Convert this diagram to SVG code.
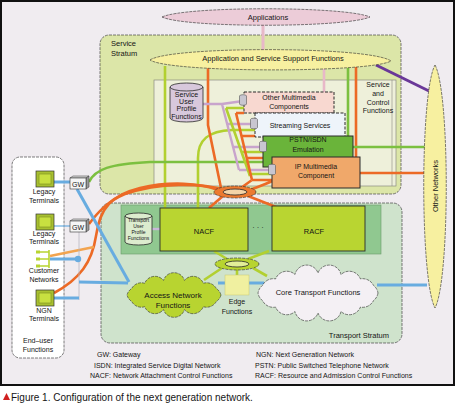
<svg xmlns="http://www.w3.org/2000/svg" width="456" height="405" viewBox="0 0 456 405">
<defs>
<style>
text{font-family:"Liberation Sans",Arial,sans-serif;fill:#151515}
.t7{font-size:7px}
.t75{font-size:7.5px}
.t8{font-size:8px}
.t5{font-size:5px}
.c{text-anchor:middle}
.dash{stroke:#2a2a2a;stroke-width:0.6;stroke-dasharray:3 1}
.sol{stroke:#2a2a2a;stroke-width:0.8}
.ln{fill:none;stroke-linecap:butt}
.blue{stroke:#68ace0;stroke-width:3}
.orange{stroke:#ec6a26;stroke-width:2.6}
.lime{stroke:#b2d030;stroke-width:2.6}
.green{stroke:#7cc040;stroke-width:2.6}
.lav{stroke:#c8a4cc;stroke-width:2.4}
.cyl{fill:#c8c6d0;stroke:#555;stroke-width:0.6}
.term{fill:#a8c030;stroke:#333;stroke-width:0.7}
.termin{fill:#c8e040;stroke:#7a8a20;stroke-width:0.6}
</style>
</defs>
<rect x="0" y="0" width="456" height="405" fill="#ffffff"/>
<rect x="1" y="1" width="453" height="384" fill="#f0ecf0" stroke="#111" stroke-width="2"/>

<g id="service-stratum">
<rect x="100" y="35" width="301" height="159" rx="9" fill="#dce6a8" class="dash"/>
<text class="t75" x="111" y="46">Service</text>
<text class="t75" x="111" y="56">Stratum</text>
<rect x="154" y="80" width="242" height="106" fill="#eef0da" stroke="#8a8a80" stroke-width="0.7"/>
<line x1="392" y1="80" x2="392" y2="186" stroke="#8a8a80" stroke-width="0.6"/>
</g>
<g id="service-control">
<text class="t7 c" x="378" y="87">Service</text>
<text class="t7 c" x="378" y="96">and</text>
<text class="t7 c" x="378" y="104.5">Control</text>
<text class="t7 c" x="378" y="112.5">Functions</text>
</g>

<g id="transport-stratum">
<rect x="101" y="203" width="301" height="140" rx="9" fill="#cfe3cc" class="dash"/>
<rect x="121" y="205" width="260" height="49" fill="#90c890" stroke="#6a9a6a" stroke-width="0.6"/>
<text class="t75" x="389" y="338" text-anchor="end">Transport Stratum</text>
</g>

<g id="end-user-functions">
<rect x="12" y="157" width="52" height="201" rx="8" fill="#ffffff" class="dash"/>
<text class="t7 c" x="38" y="343">End–user</text>
<text class="t7 c" x="38" y="352">Functions</text>
</g>

<g id="connectors">
<line class="ln" x1="263" y1="25" x2="263" y2="51" stroke="#e8b8c8" stroke-width="3"/>
<line class="ln lime" x1="165" y1="66" x2="165" y2="208"/>
<path class="ln lime" d="M198 208 V158 C198 140 208 131 232 130 H256"/>
<path class="ln orange" d="M208 66 V125 L221 188"/>
<line class="ln" x1="324" y1="66" x2="324" y2="92" stroke="#e8b8c8" stroke-width="2.6"/>
<line class="ln green" x1="348" y1="66" x2="348" y2="136"/>
<line class="ln orange" x1="356" y1="66" x2="356" y2="157"/>
<line class="ln green" x1="353" y1="147" x2="426" y2="147"/>
<line class="ln orange" x1="360" y1="173" x2="426" y2="173"/>
<line class="ln" x1="376" y1="65" x2="429" y2="91" stroke="#6a3898" stroke-width="3"/>
<path class="ln green" d="M89 182 C95 169 110 164 150 162 L263 162"/>
<path class="ln lav" d="M203 104 H222 L243 101 M222 104 L239 170 M227 124 H252 M233 147 H262 M239 170 H271"/>
<path class="ln lime" d="M226 108 H244 M226 108 L250 176 M241 152 H263 M248 174 H272"/>
<path class="ln orange" d="M236 113 H244 M236 113 L252 180 M241 136 H255 M247 158 H263 M252 180 H272 M252 180 L238 190"/>
<path class="ln orange" d="M89 224 C98 212 108 201 125 194 C160 182 200 183 226 190"/>
<path class="ln orange" d="M54 293 C80 279 92 262 96 236 C100 207 112 195 140 188 C170 181 200 183 218 190"/>
<path class="ln orange" d="M250 190 C260 186 266 184 272 181"/>
<line class="ln orange" x1="223" y1="196" x2="209" y2="208"/>
<line class="ln orange" x1="248" y1="196" x2="276" y2="207"/>
<path class="ln" d="M50 256 C65 253 80 250 94 247" stroke="#f2a450" stroke-width="2.4"/>
<line class="ln" x1="79" y1="232" x2="79" y2="300" stroke="#b8b8c0" stroke-width="0.8"/>
<line class="ln blue" x1="54" y1="182" x2="70" y2="182"/>
<line class="ln" x1="54" y1="226" x2="70" y2="226" stroke="#68ace0" stroke-width="1.2"/>
<line class="ln blue" x1="77" y1="189" x2="129" y2="282"/>
<line class="ln blue" x1="50" y1="259" x2="78" y2="259"/>
<circle cx="78" cy="259" r="3.2" fill="#68ace0"/>
<line class="ln blue" x1="79" y1="282" x2="128" y2="283"/>
<line class="ln blue" x1="54" y1="298" x2="79" y2="298"/>
<line class="ln" x1="152" y1="229" x2="160" y2="229" stroke="#c8b8d8" stroke-width="2.4"/>
<line class="ln lime" x1="227" y1="259" x2="214" y2="251"/>
<line class="ln lime" x1="248" y1="259" x2="269" y2="251"/>
<line class="ln lime" x1="222" y1="268" x2="204" y2="280"/>
<line class="ln lime" x1="253" y1="268" x2="267" y2="276"/>
<line class="ln lime" x1="237" y1="270" x2="237" y2="275"/>
<line class="ln blue" x1="218" y1="283" x2="225" y2="283"/>
<line class="ln blue" x1="249" y1="283" x2="264" y2="283"/>
<line class="ln blue" x1="377" y1="285" x2="427" y2="285"/>
</g>

<g id="applications">
<path d="M162 17 C185 6 345 6 370 17 C345 28 185 28 162 17 Z" fill="#ecccd8" class="dash"/>
<text class="t75 c" x="268" y="19.5">Applications</text>
</g>

<g id="assf">
<path d="M150 60 C170 46 370 46 391 61 C370 73 170 73 150 60 Z" fill="#f7f0a0" class="dash"/>
<text class="t75 c" x="273" y="61">Application and Service Support Functions</text>
</g>

<g id="other-networks">
<path d="M435 65 C450 92 450 280 435 308 C420 280 420 92 435 65 Z" fill="#f7f0a0" class="dash"/>
<text class="t75 c" x="438" y="186" transform="rotate(-90 438 186)">Other Networks</text>
</g>

<g id="supf">
<path d="M170 87 A16.5 4 0 0 1 203 87 V118 A16.5 4 0 0 1 170 118 Z" fill="#d8c8dc" class="sol"/>
<path d="M170 87 A16.5 4 0 0 0 203 87" fill="none" class="sol"/>
<text class="t7 c" x="186.5" y="97">Service</text>
<text class="t7 c" x="186.5" y="104">User</text>
<text class="t7 c" x="186.5" y="111">Profile</text>
<text class="t7 c" x="186.5" y="118.5">Functions</text>
</g>

<g id="other-multimedia">
<rect x="244" y="92" width="90" height="21" fill="#f8d8d0" stroke="#2a2a2a" stroke-width="1" stroke-dasharray="3 1.5"/>
<text class="t7 c" x="289" y="100">Other Multimedia</text>
<text class="t7 c" x="289" y="109">Components</text>
<path class="cyl" d="M239.5 96 A3.5 1.3 0 0 1 246.5 96 V104 A3.5 1.3 0 0 1 239.5 104 Z"/>
</g>

<g id="streaming">
<rect x="255" y="113" width="90" height="24" fill="#eef4fa" stroke="#2a2a2a" stroke-width="1" stroke-dasharray="3 1.5"/>
<text class="t7 c" x="300" y="128">Streaming Services</text>
<path class="cyl" d="M250.5 119.5 A3.5 1.3 0 0 1 257.5 119.5 V127.5 A3.5 1.3 0 0 1 250.5 127.5 Z"/>
</g>

<g id="pstn">
<rect x="263" y="136" width="90" height="31" fill="#6ab43a" stroke="#2a2a2a" stroke-width="1"/>
<text class="t7 c" x="308" y="142">PSTN/ISDN</text>
<text class="t7 c" x="308" y="152">Emulation</text>
<path class="cyl" d="M259.5 142.5 A3.5 1.3 0 0 1 266.5 142.5 V150.5 A3.5 1.3 0 0 1 259.5 150.5 Z"/>
</g>

<g id="ipmm">
<rect x="272" y="157" width="88" height="31" fill="#f0a86a" stroke="#2a2a2a" stroke-width="1"/>
<text class="t7 c" x="316" y="169">IP Multimedia</text>
<text class="t7 c" x="316" y="178">Component</text>
<path class="cyl" d="M268.5 165.5 A3.5 1.3 0 0 1 275.5 165.5 V173.5 A3.5 1.3 0 0 1 268.5 173.5 Z"/>
</g>

<g id="orange-ring">
<ellipse cx="235" cy="192" rx="21" ry="6" fill="#ec7a30" class="dash"/>
<ellipse cx="235" cy="192" rx="12" ry="3" fill="#f4d4a8" class="sol"/>
</g>

<g id="tupf">
<path d="M125 216 A13.5 3 0 0 1 152 216 V242 A13.5 3 0 0 1 125 242 Z" fill="#dcecce" class="sol"/>
<path d="M125 216 A13.5 3 0 0 0 152 216" fill="none" class="sol"/>
<text class="t5 c" x="138.5" y="222">Transport</text>
<text class="t5 c" x="138.5" y="228">User</text>
<text class="t5 c" x="138.5" y="234">Profile</text>
<text class="t5 c" x="138.5" y="240">Functions</text>
</g>

<g id="nacf">
<rect x="160" y="208" width="88" height="43" fill="#b9d531" stroke="#2a2a2a" stroke-width="0.9"/>
<text class="t75 c" x="204" y="234">NACF</text>
</g>

<g id="ellipsis">
<text class="t75 c" x="258" y="230">· · ·</text>
</g>

<g id="racf">
<rect x="272" y="206" width="93" height="45" fill="#b9d531" stroke="#2a2a2a" stroke-width="0.9"/>
<text class="t75 c" x="314" y="234">RACF</text>
</g>

<g id="lime-ring">
<ellipse cx="237" cy="264" rx="22" ry="6" fill="#b8d430" class="dash"/>
<ellipse cx="237" cy="264" rx="12" ry="3" fill="#e2ee98" class="sol"/>
</g>

<g id="access-network">
<path d="M221 295 A11 11 0 0 1 216.3 301.5 A11 11 0 0 1 203.3 306.7 A11 11 0 0 1 184.5 309.6 A11 11 0 0 1 163.5 309.6 A11 11 0 0 1 144.7 306.7 A11 11 0 0 1 131.7 301.5 A11 11 0 0 1 127 295 A11 11 0 0 1 131.7 288.5 A11 11 0 0 1 144.7 283.3 A11 11 0 0 1 163.5 280.4 A11 11 0 0 1 184.5 280.4 A11 11 0 0 1 203.3 283.3 A11 11 0 0 1 216.3 288.5 A11 11 0 0 1 221 295 Z" fill="#b8d430" class="dash"/>
<text class="t8 c" x="173" y="298">Access Network</text>
<text class="t8 c" x="173" y="307.5">Functions</text>
</g>

<g id="edge-functions">
<rect x="225" y="275" width="24" height="20" fill="#f0f0a0" stroke="#c8c870" stroke-width="0.5"/>
<text class="t7 c" x="237" y="304">Edge</text>
<text class="t7 c" x="237" y="313.5">Functions</text>
</g>

<g id="core-transport">
<path d="M378 293 A12 12 0 0 1 373.4 300.7 A12 12 0 0 1 360.4 307.1 A12 12 0 0 1 341 311.5 A12 12 0 0 1 318 313 A12 12 0 0 1 295 311.5 A12 12 0 0 1 275.6 307.1 A12 12 0 0 1 262.6 300.7 A12 12 0 0 1 258 293 A12 12 0 0 1 262.6 285.3 A12 12 0 0 1 275.6 278.9 A12 12 0 0 1 295 274.5 A12 12 0 0 1 318 273 A12 12 0 0 1 341 274.5 A12 12 0 0 1 360.4 278.9 A12 12 0 0 1 373.4 285.3 A12 12 0 0 1 378 293 Z" fill="#f4f0f4" class="dash"/>
<text class="t75 c" x="318" y="295">Core Transport Functions</text>
</g>

<g id="legacy-terminals-1">
<rect class="term" x="36" y="171" width="18" height="16"/>
<rect class="termin" x="39" y="174" width="12" height="10"/>
<text class="t7 c" x="44" y="194">Legacy</text>
<text class="t7 c" x="44" y="202.5">Terminals</text>
</g>

<g id="gw-1">
<polygon points="70,178 73,176 89,176 86,178" fill="#dcdcdc" stroke="#333" stroke-width="0.5"/>
<polygon points="86,178 89,176 89,187 86,189" fill="#9a9a9a" stroke="#333" stroke-width="0.5"/>
<rect x="70" y="178" width="16" height="11" fill="#f6f6f6" stroke="#333" stroke-width="0.6"/>
<text class="t7 c" x="78" y="186.5">GW</text>
</g>

<g id="legacy-terminals-2">
<rect class="term" x="36" y="214" width="18" height="16"/>
<rect class="termin" x="39" y="217" width="12" height="10"/>
<text class="t7 c" x="44" y="236">Legacy</text>
<text class="t7 c" x="44" y="244">Terminals</text>
</g>

<g id="gw-2">
<polygon points="70,221 73,219 89,219 86,221" fill="#dcdcdc" stroke="#333" stroke-width="0.5"/>
<polygon points="86,221 89,219 89,230 86,232" fill="#9a9a9a" stroke="#333" stroke-width="0.5"/>
<rect x="70" y="221" width="16" height="11" fill="#f6f6f6" stroke="#333" stroke-width="0.6"/>
<text class="t7 c" x="78" y="229.5">GW</text>
</g>

<g id="customer-networks">
<path d="M39 252 H49 M39 259 H49 M39 266 H49 M49 250 V268" fill="none" stroke="#b8d430" stroke-width="1.6"/>
<rect x="36" y="250.5" width="4" height="3" fill="#b8d430"/>
<rect x="36" y="257.5" width="4" height="3" fill="#b8d430"/>
<rect x="36" y="264.5" width="4" height="3" fill="#b8d430"/>
<text class="t7 c" x="44" y="273">Customer</text>
<text class="t7 c" x="44" y="282">Networks</text>
</g>

<g id="ngn-terminals">
<rect class="term" x="36" y="290" width="18" height="16"/>
<rect class="termin" x="39" y="293" width="12" height="10"/>
<text class="t7 c" x="44" y="313">NGN</text>
<text class="t7 c" x="44" y="321">Terminals</text>
</g>

<g id="legend">
<text class="t7" x="97" y="357">GW: Gateway</text>
<text class="t7" x="94" y="368">ISDN: Integrated Service Digital Network</text>
<text class="t7" x="90" y="378">NACF: Network Attachment Control Functions</text>
<text class="t7" x="256" y="357">NGN: Next Generation Network</text>
<text class="t7" x="255" y="368">PSTN: Public Switched Telephone Network</text>
<text class="t7" x="255" y="378">RACF: Resource and Admission Control Functions</text>
</g>

<g id="caption">
<polygon points="3,400 6.5,393 10,400" fill="#d02020"/>
<text x="11" y="401" style="font-size:10px">Figure 1. Configuration of the next generation network.</text>
</g>
</svg>
